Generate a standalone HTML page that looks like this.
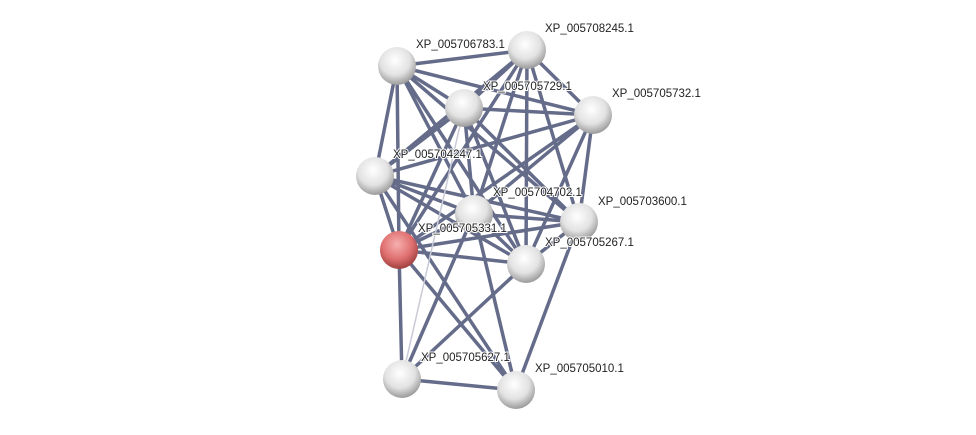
<!DOCTYPE html><html><head><style>body{margin:0;background:#fff}svg{display:block}text{font-family:"Liberation Sans",sans-serif;font-size:11.5px;fill:#222;paint-order:stroke;stroke:#fff;stroke-width:2px}</style></head><body>
<svg width="976" height="435" viewBox="0 0 976 435">
<defs>
<radialGradient id="g" cx="45%" cy="35%" r="65%"><stop offset="0" stop-color="#fff"/><stop offset="0.6" stop-color="#e2e2e2"/><stop offset="1" stop-color="#9a9a9a"/></radialGradient>
<radialGradient id="r" cx="45%" cy="35%" r="65%"><stop offset="0" stop-color="#f6b0b0"/><stop offset="0.6" stop-color="#e07070"/><stop offset="1" stop-color="#a04040"/></radialGradient>
</defs>
<g stroke="#4a5275" stroke-width="3.5" stroke-opacity="0.85" fill="none">
<path d="M397 66L527 50M397 66L464 108M397 66L593 115M397 66L375 176M397 66L474 214M397 66L579 222M397 66L399 250M397 66L526 264
M527 50L464 108M527 50L593 115M527 50L375 176M527 50L474 214M527 50L579 222M527 50L399 250M527 50L526 264
M464 108L593 115M464 108L375 176M464 108L474 214M464 108L579 222M464 108L399 250M464 108L526 264
M593 115L375 176M593 115L474 214M593 115L579 222M593 115L399 250M593 115L526 264
M375 176L474 214M375 176L579 222M375 176L399 250M375 176L526 264M375 176L516 390
M474 214L579 222M474 214L399 250M474 214L526 264M474 214L402 379M474 214L516 390
M579 222L399 250M579 222L526 264M579 222L516 390
M399 250L526 264M399 250L402 379M399 250L516 390
M526 264L402 379M402 379L516 390"/>
</g>
<path d="M402 379L464 108" stroke="#c8cad6" stroke-width="1.5"/>
<g>
<circle cx="397" cy="66" r="19" fill="url(#g)"/><circle cx="527" cy="50" r="19" fill="url(#g)"/>
<circle cx="464" cy="108" r="19" fill="url(#g)"/><circle cx="593" cy="115" r="19" fill="url(#g)"/>
<circle cx="375" cy="176" r="19" fill="url(#g)"/><circle cx="474" cy="214" r="19" fill="url(#g)"/>
<circle cx="579" cy="222" r="19" fill="url(#g)"/><circle cx="399" cy="250" r="19" fill="url(#r)"/>
<circle cx="526" cy="264" r="19" fill="url(#g)"/><circle cx="402" cy="379" r="19" fill="url(#g)"/>
<circle cx="516" cy="390" r="19" fill="url(#g)"/>
</g>
<text x="416" y="48">XP_005706783.1</text>
<text x="545" y="32">XP_005708245.1</text>
<text x="483" y="90">XP_005705729.1</text>
<text x="612" y="97">XP_005705732.1</text>
<text x="393" y="158">XP_005704247.1</text>
<text x="493" y="196">XP_005704702.1</text>
<text x="598" y="205">XP_005703600.1</text>
<text x="418" y="232">XP_005705331.1</text>
<text x="545" y="246">XP_005705267.1</text>
<text x="421" y="361">XP_005705627.1</text>
<text x="535" y="372">XP_005705010.1</text>
</svg></body></html>
